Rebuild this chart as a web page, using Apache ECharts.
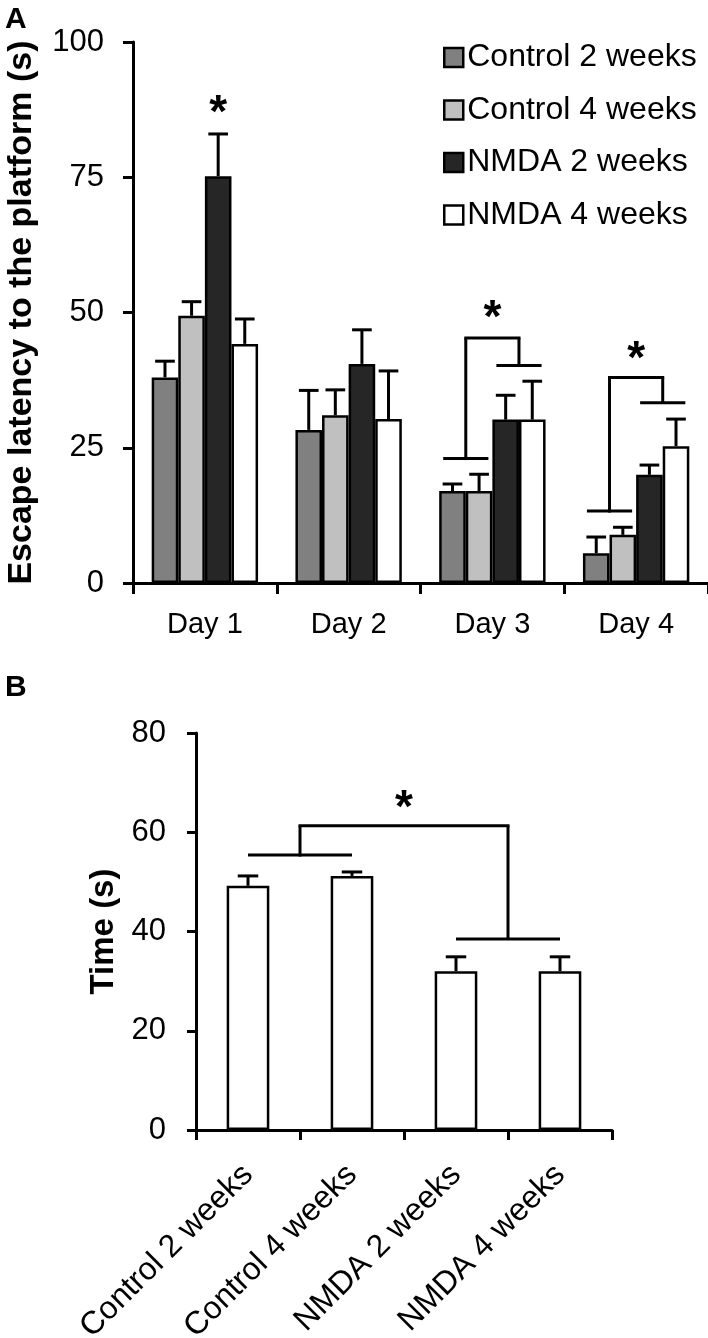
<!DOCTYPE html>
<html><head><meta charset="utf-8">
<script src="https://cdn.jsdelivr.net/npm/echarts@6/dist/echarts.min.js"></script>
<style>html,body{margin:0;padding:0;background:#fff}#c{width:708px;height:1338px}</style>
</head><body><div id="c"></div>
<script>
// ---- data ----
const days = ['Day 1', 'Day 2', 'Day 3', 'Day 4'];
const groups = ['Control 2 weeks', 'Control 4 weeks', 'NMDA 2 weeks', 'NMDA 4 weeks'];
const latencyC2 = [38, 28.3, 17, 5.5];
const latencyC4 = [49.4, 31, 17, 8.9];
const latencyN2 = [75.2, 40.5, 30.2, 20];
const latencyN4 = [44.2, 30.3, 30.2, 25.3];
const semC2 = [3, 7.3, 1.3, 3];
const semC4 = [2.6, 4.7, 3.1, 1.4];
const semN2 = [7.8, 6.3, 4.5, 1.8];
const semN4 = [4.6, 8.9, 7.1, 5];
const latencyTicks = [0, 25, 50, 75, 100];
const probeTime = [49.2, 51.2, 32, 32];
const probeSem = [2, 0.8, 2.9, 2.9];
const timeTicks = [0, 20, 40, 60, 80];
// significance marks (values on the y scale)
const latencyBrackets = [
  { day: 'Day 3', low: 23, top: 45.3, high: 40.2, star: 50.5 },
  { day: 'Day 4', low: 13.3, top: 38, high: 33.3, star: 43 }
];
const latencyStar = { day: 'Day 1', group: 'NMDA 2 weeks', y: 88.5 };
const probeBracket = { low: 55.4, top: 61.3, high: 38.5, star: 66.7 };

// ---- styles ----
const FONT = '"Liberation Sans", Arial, sans-serif';
const colors = ['#808080', '#c0c0c0', '#262626', '#ffffff'];
const GAP_A = 0.26;
const LW = 3;
const STAR_SHIFT = 10;

const latency = [latencyC2, latencyC4, latencyN2, latencyN4];
const sems = [semC2, semC4, semN2, semN4];

const errA = [];
latency.forEach((arr, gi) => arr.forEach((v, ci) => errA.push([ci, v, sems[gi][ci], gi])));
const errB = probeTime.map((v, i) => [i, v, probeSem[i]]);

function lineEl(x1, y1, x2, y2) {
  return { type: 'line', shape: { x1, y1, x2, y2 }, style: { stroke: '#000', lineWidth: LW, lineCap: 'butt' } };
}
function starEl(x, y) {
  return { type: 'text', style: { text: '*', x, y: y + STAR_SHIFT, fill: '#000', font: 'bold 46px ' + FONT, align: 'center', verticalAlign: 'middle', textAlign: 'center', textVerticalAlign: 'middle' } };
}

const barSeries = groups.map((g, gi) => ({
  name: g, type: 'bar', xAxisIndex: 0, yAxisIndex: 0,
  data: latency[gi], barGap: '0%', barCategoryGap: (GAP_A * 100) + '%',
  itemStyle: { color: colors[gi], borderColor: '#000', borderWidth: 2.5 },
  z: 2
}));

const option = {
  animation: false,
  textStyle: { fontFamily: FONT },
  graphic: [
    { type: 'text', left: 5, top: 5, style: { text: 'A', font: 'bold 30px ' + FONT, fill: '#000' } },
    { type: 'text', left: 5, top: 673, style: { text: 'B', font: 'bold 30px ' + FONT, fill: '#000' } }
  ],
  legend: {
    data: groups, orient: 'vertical', left: 438, top: 35,
    itemWidth: 19, itemHeight: 19, itemGap: 17.5, icon: 'rect',
    itemStyle: { borderColor: '#000', borderWidth: 2.5 },
    textStyle: { fontSize: 32, color: '#000', fontFamily: FONT, lineHeight: 35, padding: [0, 0, 0, -1] }
  },
  grid: [
    { left: 133, top: 42, right: 0, height: 541, containLabel: false, outerBoundsMode: 'none' },
    { left: 196, top: 733, width: 416, height: 397, containLabel: false, outerBoundsMode: 'none' }
  ],
  xAxis: [
    {
      type: 'category', gridIndex: 0, data: days,
      axisLine: { lineStyle: { color: '#000', width: LW } },
      axisTick: { show: true, length: 11, lineStyle: { color: '#000', width: LW } },
      axisLabel: { fontSize: 29, color: '#000', margin: 27, fontFamily: FONT },
      splitLine: { show: false }
    },
    {
      type: 'category', gridIndex: 1, data: groups,
      axisLine: { lineStyle: { color: '#000', width: LW } },
      axisTick: { show: true, length: 10, lineStyle: { color: '#000', width: LW } },
      axisLabel: { fontSize: 32, color: '#000', margin: 40, rotate: 45, interval: 0, fontFamily: FONT },
      splitLine: { show: false }
    }
  ],
  yAxis: [
    {
      type: 'value', gridIndex: 0, min: latencyTicks[0], max: latencyTicks[latencyTicks.length - 1], interval: 25,
      name: 'Escape latency to the platform (s)', nameLocation: 'middle', nameGap: 94,
      nameTextStyle: { fontSize: 34, fontWeight: 'bold', color: '#000', fontFamily: FONT },
      axisLine: { show: true, lineStyle: { color: '#000', width: LW } },
      axisTick: { show: true, length: 10, lineStyle: { color: '#000', width: LW } },
      axisLabel: { fontSize: 31, color: '#000', margin: 29, fontFamily: FONT },
      splitLine: { show: false }
    },
    {
      type: 'value', gridIndex: 1, min: timeTicks[0], max: timeTicks[timeTicks.length - 1], interval: 20,
      name: 'Time (s)', nameLocation: 'middle', nameGap: 71,
      nameTextStyle: { fontSize: 33, fontWeight: 'bold', color: '#000', fontFamily: FONT },
      axisLine: { show: true, lineStyle: { color: '#000', width: LW } },
      axisTick: { show: true, length: 9, lineStyle: { color: '#000', width: LW } },
      axisLabel: { fontSize: 31, color: '#000', margin: 30, fontFamily: FONT },
      splitLine: { show: false }
    }
  ],
  series: [
    ...barSeries,
    {
      type: 'custom', xAxisIndex: 0, yAxisIndex: 0, data: errA, z: 5,
      encode: { x: 0, y: 1 },
      renderItem(params, api) {
        const ci = api.value(0), v = api.value(1), e = api.value(2), gi = api.value(3);
        const band = api.size([1, 0])[0];
        const bw = band * (1 - GAP_A) / 4;
        const p0 = api.coord([ci, v]);
        const p1 = api.coord([ci, v + e]);
        const x = p0[0] + (gi - 1.5) * bw;
        const cap = bw * 0.37;
        return { type: 'group', children: [lineEl(x, p0[1], x, p1[1]), lineEl(x - cap, p1[1], x + cap, p1[1])] };
      }
    },
    {
      type: 'custom', xAxisIndex: 0, yAxisIndex: 0, z: 5,
      data: latencyBrackets.map(b => [days.indexOf(b.day), b.low, b.top, b.high, b.star]),
      encode: { x: 0, y: 2 },
      renderItem(params, api) {
        const ci = api.value(0);
        const band = api.size([1, 0])[0];
        const bw = band * (1 - GAP_A) / 4;
        const c = api.coord([ci, 0])[0];
        const lc = c - bw, rc = c + bw, half = bw * 0.85;
        const yl = api.coord([ci, api.value(1)])[1];
        const yt = api.coord([ci, api.value(2)])[1];
        const yh = api.coord([ci, api.value(3)])[1];
        const ys = api.coord([ci, api.value(4)])[1];
        return { type: 'group', children: [
          lineEl(lc - half, yl, lc + half, yl),
          lineEl(lc, yl + LW / 2, lc, yt),
          lineEl(lc - LW / 2, yt, rc + LW / 2, yt),
          lineEl(rc, yt, rc, yh),
          lineEl(rc - half, yh, rc + half, yh),
          starEl(c, ys)
        ] };
      }
    },
    {
      type: 'custom', xAxisIndex: 0, yAxisIndex: 0, z: 5,
      data: [[days.indexOf(latencyStar.day), latencyStar.y, groups.indexOf(latencyStar.group)]],
      encode: { x: 0, y: 1 },
      renderItem(params, api) {
        const band = api.size([1, 0])[0];
        const bw = band * (1 - GAP_A) / 4;
        const p = api.coord([api.value(0), api.value(1)]);
        return starEl(p[0] + (api.value(2) - 1.5) * bw, p[1]);
      }
    },
    {
      name: 'Probe', type: 'bar', xAxisIndex: 1, yAxisIndex: 1, data: probeTime,
      barWidth: '41%',
      itemStyle: { color: '#fff', borderColor: '#000', borderWidth: 2.5 }, z: 2
    },
    {
      type: 'custom', xAxisIndex: 1, yAxisIndex: 1, data: errB, z: 5,
      encode: { x: 0, y: 1 },
      renderItem(params, api) {
        const ci = api.value(0), v = api.value(1), e = api.value(2);
        const band = api.size([1, 0])[0];
        const p0 = api.coord([ci, v]);
        const p1 = api.coord([ci, v + e]);
        const cap = band * 0.41 * 0.24;
        return { type: 'group', children: [lineEl(p0[0], p0[1], p0[0], p1[1]), lineEl(p0[0] - cap, p1[1], p0[0] + cap, p1[1])] };
      }
    },
    {
      type: 'custom', xAxisIndex: 1, yAxisIndex: 1, z: 5,
      data: [[0, probeBracket.low, probeBracket.top, probeBracket.high, probeBracket.star]],
      encode: { x: 0, y: 2 },
      renderItem(params, api) {
        const c = [0, 1, 2, 3].map(i => api.coord([i, 0])[0]);
        const yl = api.coord([0, api.value(1)])[1];
        const yt = api.coord([0, api.value(2)])[1];
        const yh = api.coord([0, api.value(3)])[1];
        const ys = api.coord([0, api.value(4)])[1];
        const lm = (c[0] + c[1]) / 2, rm = (c[2] + c[3]) / 2;
        return { type: 'group', children: [
          lineEl(c[0], yl, c[1], yl),
          lineEl(lm, yl + LW / 2, lm, yt),
          lineEl(lm - LW / 2, yt, rm + LW / 2, yt),
          lineEl(rm, yt, rm, yh),
          lineEl(c[2], yh, c[3], yh),
          starEl((lm + rm) / 2, ys)
        ] };
      }
    }
  ]
};
const chart = echarts.init(document.getElementById('c'), null, { renderer: 'canvas' });
chart.setOption(option);
</script>
</body></html>
